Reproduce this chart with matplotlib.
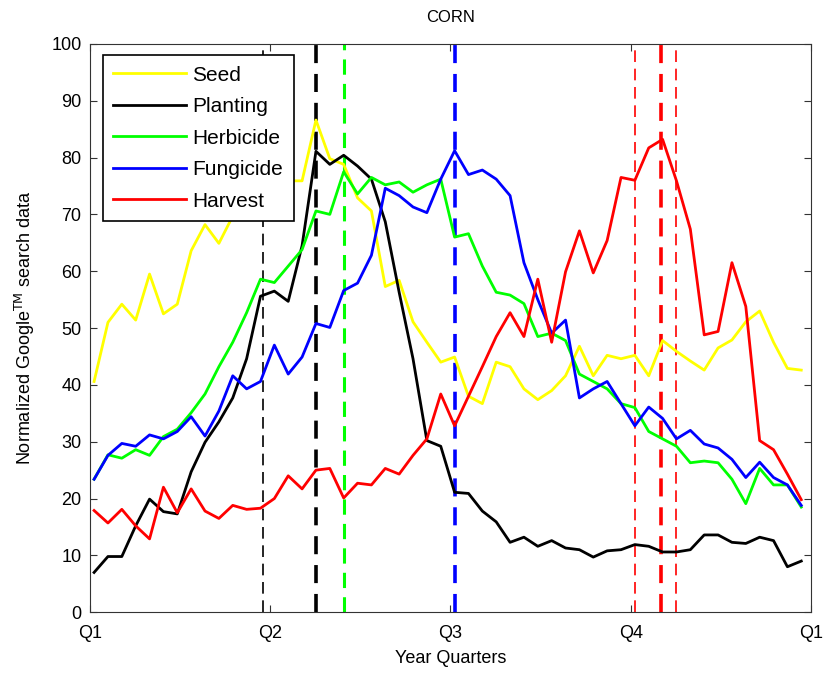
import numpy as np
import matplotlib
matplotlib.use("Agg")
import matplotlib.pyplot as plt

# weekly search values (52 weeks)
seed = [40.6, 51.0, 54.2, 51.4, 59.5, 52.5, 54.2, 63.6, 68.2, 64.9, 69.7, 72.0, 74.0,
        75.0, 75.9, 75.9, 86.6, 79.8, 78.8, 72.9, 70.6, 57.3, 58.4, 51.1, 47.5, 44.0,
        44.9, 38.0, 36.7, 44.0, 43.2, 39.3, 37.4, 39.0, 41.6, 46.8, 41.6, 45.2, 44.6,
        45.2, 41.6, 47.8, 45.9, 44.2, 42.6, 46.5, 47.9, 51.1, 53.0, 47.5, 42.9, 42.6]
planting = [7.0, 9.8, 9.8, 15.2, 19.9, 17.7, 17.3, 24.7, 29.9, 33.5, 37.7, 44.6, 55.6,
            56.5, 54.7, 64.5, 81.1, 78.8, 80.4, 78.5, 76.2, 68.7, 56.3, 44.6, 30.2, 29.2,
            21.1, 20.9, 17.8, 15.9, 12.3, 13.2, 11.6, 12.6, 11.3, 11.0, 9.7, 10.8, 11.0,
            11.9, 11.6, 10.6, 10.6, 11.0, 13.6, 13.6, 12.3, 12.1, 13.2, 12.6, 8.0, 9.0]
herbicide = [23.4, 27.7, 27.1, 28.6, 27.6, 30.9, 32.2, 35.1, 38.4, 43.2, 47.5, 52.7, 58.6,
             58.0, 60.9, 63.8, 70.6, 70.0, 77.5, 73.6, 76.5, 75.2, 75.7, 73.9, 75.2, 76.2,
             66.0, 66.6, 60.9, 56.3, 55.8, 54.3, 48.5, 49.1, 47.8, 41.9, 40.6, 39.3, 36.7,
             36.0, 31.8, 30.5, 29.2, 26.3, 26.6, 26.3, 23.4, 19.1, 25.3, 22.4, 22.4, 18.5]
fungicide = [23.4, 27.6, 29.7, 29.2, 31.2, 30.5, 31.8, 34.4, 31.0, 35.4, 41.6, 39.3, 40.6,
             47.0, 41.9, 44.9, 50.8, 50.1, 56.6, 57.9, 62.8, 74.6, 73.3, 71.3, 70.3, 76.2,
             81.2, 77.0, 77.8, 76.2, 73.3, 61.5, 55.0, 49.1, 51.4, 37.7, 39.3, 40.6, 36.7,
             32.8, 36.1, 34.1, 30.5, 32.0, 29.6, 28.9, 26.9, 23.7, 26.4, 23.7, 22.4, 18.8]
harvest = [17.9, 15.7, 18.1, 15.2, 12.9, 22.0, 17.5, 21.7, 17.8, 16.5, 18.8, 18.1, 18.3,
           20.0, 24.0, 21.7, 25.0, 25.3, 20.1, 22.7, 22.4, 25.3, 24.3, 27.6, 30.5, 38.4,
           32.8, 38.0, 43.2, 48.5, 52.7, 48.5, 58.6, 47.5, 59.9, 67.1, 59.7, 65.4, 76.5,
           76.0, 81.7, 83.2, 75.9, 67.4, 48.8, 49.4, 61.5, 53.8, 30.2, 28.6, 24.3, 19.8]

weeks = np.arange(52) + 0.3
names = ["Seed", "Planting", "Herbicide", "Fungicide", "Harvest"]
colors = ["#ffff00", "#000000", "#00ff00", "#0000ff", "#ff0000"]

# marker lines (week, colour, width)
vlines = [(12.5, "#000000", 1.2), (16.3, "#000000", 2.6), (18.3, "#00ff00", 2.2),
          (26.3, "#0000ff", 2.6), (39.3, "#ff0000", 1.2), (41.2, "#ff0000", 2.6),
          (42.3, "#ff0000", 1.2)]

quarter_pos = [0, 13, 26, 39, 52]
quarter_labels = ["Q1", "Q2", "Q3", "Q4", "Q1"]

plt.rcParams["font.family"] = ["Liberation Sans", "DejaVu Sans"]

fig = plt.figure(figsize=(8.25, 6.75), dpi=100)
ax = fig.add_axes([0.109, 0.093, 0.874, 0.842])

for x, c, w in vlines:
    ax.axvline(x, color=c, lw=w, ls=(0, (5, 3)) if w > 2 else (0, (7, 4)), zorder=1)

for data, name, c in zip([seed, planting, herbicide, fungicide, harvest], names, colors):
    ax.plot(weeks, data, color=c, lw=2, label=name, zorder=2)

ax.set_xlim(0, 52)
ax.set_ylim(0, 100)
ax.set_xticks(quarter_pos)
ax.set_xticklabels(quarter_labels)
ax.set_yticks(np.arange(0, 101, 10))
ax.tick_params(direction="in", top=True, right=True, labelsize=13, length=5, color="#333333")
ax.tick_params(axis="x", pad=9)
ax.tick_params(axis="y", pad=6)
for s in ax.spines.values():
    s.set_color("#333333")

ax.set_title("CORN", fontsize=12, pad=16)
ax.set_xlabel("Year Quarters", fontsize=13, labelpad=6)
ax.set_ylabel("Normalized Google$^{\\mathrm{TM}}$ search data", fontsize=13, labelpad=10)

leg = ax.legend(loc="upper left", bbox_to_anchor=(0.018, 0.98), fontsize=15,
                handlelength=3.5, handletextpad=0.3, labelspacing=0.6,
                fancybox=False, framealpha=1, borderaxespad=0, borderpad=0.5)
leg.get_frame().set_edgecolor("#000000")
leg.get_frame().set_linewidth(1.2)

fig.savefig("out.png", dpi=100)
